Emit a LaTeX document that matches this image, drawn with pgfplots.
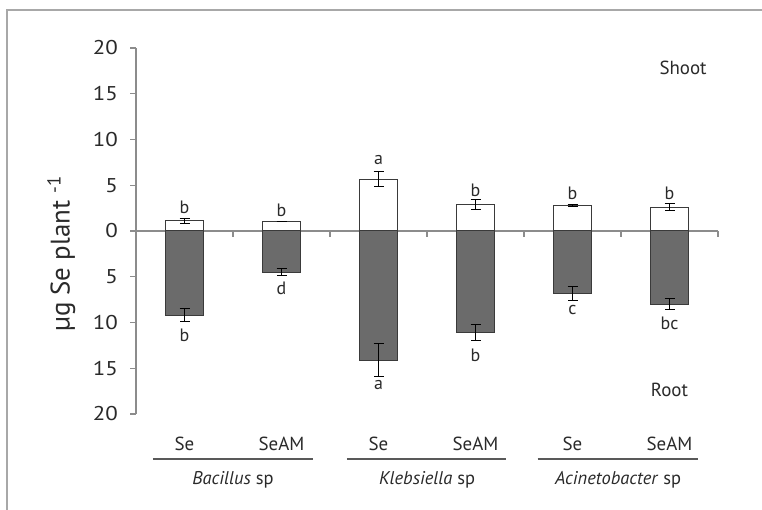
\documentclass[border=0pt]{standalone}
\usepackage{fontspec}
\setmainfont{PT Sans}
\usepackage{pgfplots}
\usepackage{pgfplotstable}
\pgfplotsset{compat=1.18}
\definecolor{barfill}{HTML}{6B6B6B}
\definecolor{baredge}{HTML}{3A3A3A}
\definecolor{axgray}{HTML}{8C8C8C}
\definecolor{framegray}{HTML}{A8A8A8}
\definecolor{txt}{HTML}{2A2A2A}

\pgfplotstableread{
x shoot serr
0.5 1.1 0.3
1.5 1.0 0.0
2.5 5.65 0.8
3.5 2.9 0.5
4.5 2.75 0.12
5.5 2.6 0.35
}\shootdata
\pgfplotstableread{
x root rerr
0.5 -9.2 0.7
1.5 -4.5 0.35
2.5 -14.1 1.8
3.5 -11.1 0.9
4.5 -6.8 0.75
5.5 -8.0 0.6
}\rootdata

\begin{document}
\begin{tikzpicture}[x=1bp,y=1bp]
% page: 762 x 510 px; axis box: x 136..718, y 48..414 (from top)
\useasboundingbox (-136,-96) rectangle (626,414);
\fill[white] (-136,-96) rectangle (626,414);
\draw[framegray, line width=1.2bp] (-129,-96) -- (-129,404) -- (626,404);
\begin{axis}[
  anchor=south west,
  scale only axis, width=582bp, height=366bp,
  xmin=0, xmax=6, ymin=-20, ymax=20,
  axis x line=middle, axis y line=left,
  axis line style={-, axgray, line width=1.2bp},
  xtick={1,2,3,4,5,6}, xticklabels={},
  ytick={-20,-15,-10,-5,0,5,10,15,20},
  yticklabels={20,15,10,5,0,5,10,15,20},
  tick align=outside,
  major tick length=6bp,
  tick style={axgray, line width=1.2bp},
  yticklabel style={font=\fontsize{20}{22}\selectfont, text=txt, xscale=1.15, xshift=-7bp},
  clip=false,
]
\addplot[ybar, bar width=0.4, bar shift=0pt, fill=white, draw=baredge, line width=1bp,
  error bars/.cd, y dir=both, y explicit,
  error bar style={black, line width=1bp},
  error mark options={rotate=90, black, mark size=5bp, line width=1bp}]
  table[x=x, y=shoot, y error=serr]{\shootdata};
\addplot[ybar, bar width=0.4, bar shift=0pt, fill=barfill, draw=baredge, line width=1bp,
  error bars/.cd, y dir=both, y explicit,
  error bar style={black, line width=1bp},
  error mark options={rotate=90, black, mark size=5bp, line width=1bp}]
  table[x=x, y=root, y error=rerr]{\rootdata};

% significance letters
\begin{scope}[every node/.style={font=\fontsize{18}{20}\selectfont, text=txt, inner sep=0pt}]
\node at (axis cs:0.5,2.62) {b};
\node at (axis cs:1.5,2.3) {b};
\node at (axis cs:2.5,7.76) {a};
\node at (axis cs:3.5,4.48) {b};
\node at (axis cs:4.5,4.15) {b};
\node at (axis cs:5.5,4.15) {b};
\node at (axis cs:0.5,-11.37) {b};
\node at (axis cs:1.5,-6.23) {d};
\node at (axis cs:2.5,-16.83) {a};
\node at (axis cs:3.5,-13.55) {b};
\node at (axis cs:4.5,-8.63) {c};
\node at (axis cs:5.5,-10.05) {bc};
\end{scope}

\node[font=\fontsize{19}{21}\selectfont, text=txt] at (axis cs:5.64,17.8) {Shoot};
\node[font=\fontsize{19}{21}\selectfont, text=txt] at (axis cs:5.5,-17.4) {Root};

\node[rotate=90, font=\fontsize{27}{30}\selectfont, text=txt] at (axis cs:-0.77,-2.5) {µg Se plant \textsuperscript{-1}};

% category labels
\begin{scope}[every node/.style={font=\fontsize{19}{21}\selectfont, text=txt}]
\node at (axis cs:0.5,-23.3) {Se};
\node at (axis cs:1.5,-23.3) {SeAM};
\node at (axis cs:2.5,-23.3) {Se};
\node at (axis cs:3.5,-23.3) {SeAM};
\node at (axis cs:4.5,-23.3) {Se};
\node at (axis cs:5.5,-23.3) {SeAM};
\end{scope}
\draw[black!65, line width=1.8bp] (axis cs:0.175,-24.9) -- (axis cs:1.825,-24.9);
\draw[black!65, line width=1.8bp] (axis cs:2.175,-24.9) -- (axis cs:3.81,-24.9);
\draw[black!65, line width=1.8bp] (axis cs:4.14,-24.9) -- (axis cs:5.79,-24.9);
\begin{scope}[every node/.style={font=\fontsize{18.5}{20}\selectfont, text=txt}]
\node at (axis cs:1.0,-27.2) {\textit{Bacillus} sp};
\node at (axis cs:3.0,-27.2) {\textit{Klebsiella} sp};
\node at (axis cs:4.97,-27.2) {\textit{Acinetobacter} sp};
\end{scope}
\end{axis}
\end{tikzpicture}
\end{document}
